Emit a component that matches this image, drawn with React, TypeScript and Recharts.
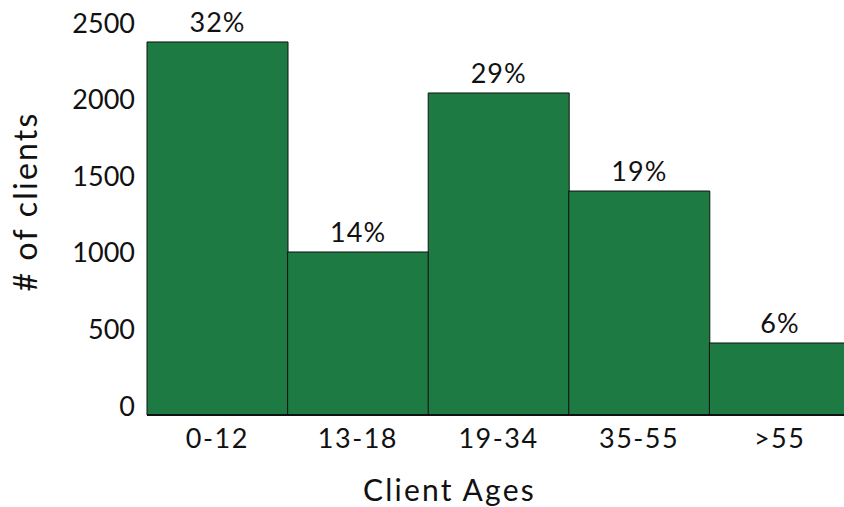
import { BarChart, Bar, XAxis, YAxis, LabelList, Label } from "recharts";

// client counts per age bracket
const ageGroups = ["0-12", "13-18", "19-34", "35-55", ">55"];
const clientCounts = [2435, 1064, 2102, 1462, 470];
const shareLabels = [32, 14, 29, 19, 6];
const yTicks = [0, 500, 1000, 1500, 2000, 2500];

const data = ageGroups.map((g, i) => ({
    group: g,
    clients: clientCounts[i],
    share: shareLabels[i],
}));

const FONT = "Lato, 'DejaVu Sans', sans-serif";

const YTick = (props: any) => {
    const { x, y, payload } = props;
    return (
        <text x={x - 4} y={y - 10} textAnchor="end" dominantBaseline="central"
            fontFamily={FONT} fontSize={27} fill="#111">
            {payload.value}
        </text>
    );
};

const XTick = (props: any) => {
    const { x, y, payload } = props;
    return (
        <text x={x} y={y + 14} textAnchor="middle" dominantBaseline="central"
            fontFamily={FONT} fontSize={27} letterSpacing={1.5} fill="#111">
            {payload.value}
        </text>
    );
};

export default function App() {
    // the last bar runs past the right edge in the reference, so the svg is a bit wider and clipped
    return (
        <div style={{ position: "absolute", left: 0, top: 0, width: 844, height: 507, overflow: "hidden", background: "#fff" }}>
            <BarChart width={850} height={507} data={data} barCategoryGap={0}
                margin={{ top: 32, right: 0, bottom: 0, left: 0 }}>
                <XAxis dataKey="group" height={92} tick={<XTick />} tickLine={false}
                    axisLine={{ stroke: "#111", strokeWidth: 2 }}>
                    <Label value="Client Ages" position="insideBottom" offset={6} dx={-49}
                        style={{ fontFamily: FONT, fontSize: 30, fill: "#111", letterSpacing: 2.2 }} />
                </XAxis>
                <YAxis width={147} domain={[0, 2500]} ticks={yTicks} tick={<YTick />}
                    tickLine={false} axisLine={false} interval={0}>
                    <Label value="# of clients" angle={-90} position="insideLeft" offset={26} dy={-22}
                        style={{ fontFamily: FONT, fontSize: 32, fill: "#111", textAnchor: "middle", letterSpacing: 2.2 }} />
                </YAxis>
                <Bar dataKey="clients" fill="#1d7a42" stroke="#111" strokeWidth={1} isAnimationActive={false}>
                    <LabelList dataKey="share" position="top" offset={10}
                        formatter={(v: any) => `${v}%`}
                        style={{ fontFamily: FONT, fontSize: 27, fill: "#111", letterSpacing: 1 }} />
                </Bar>
            </BarChart>
        </div>
    );
}
